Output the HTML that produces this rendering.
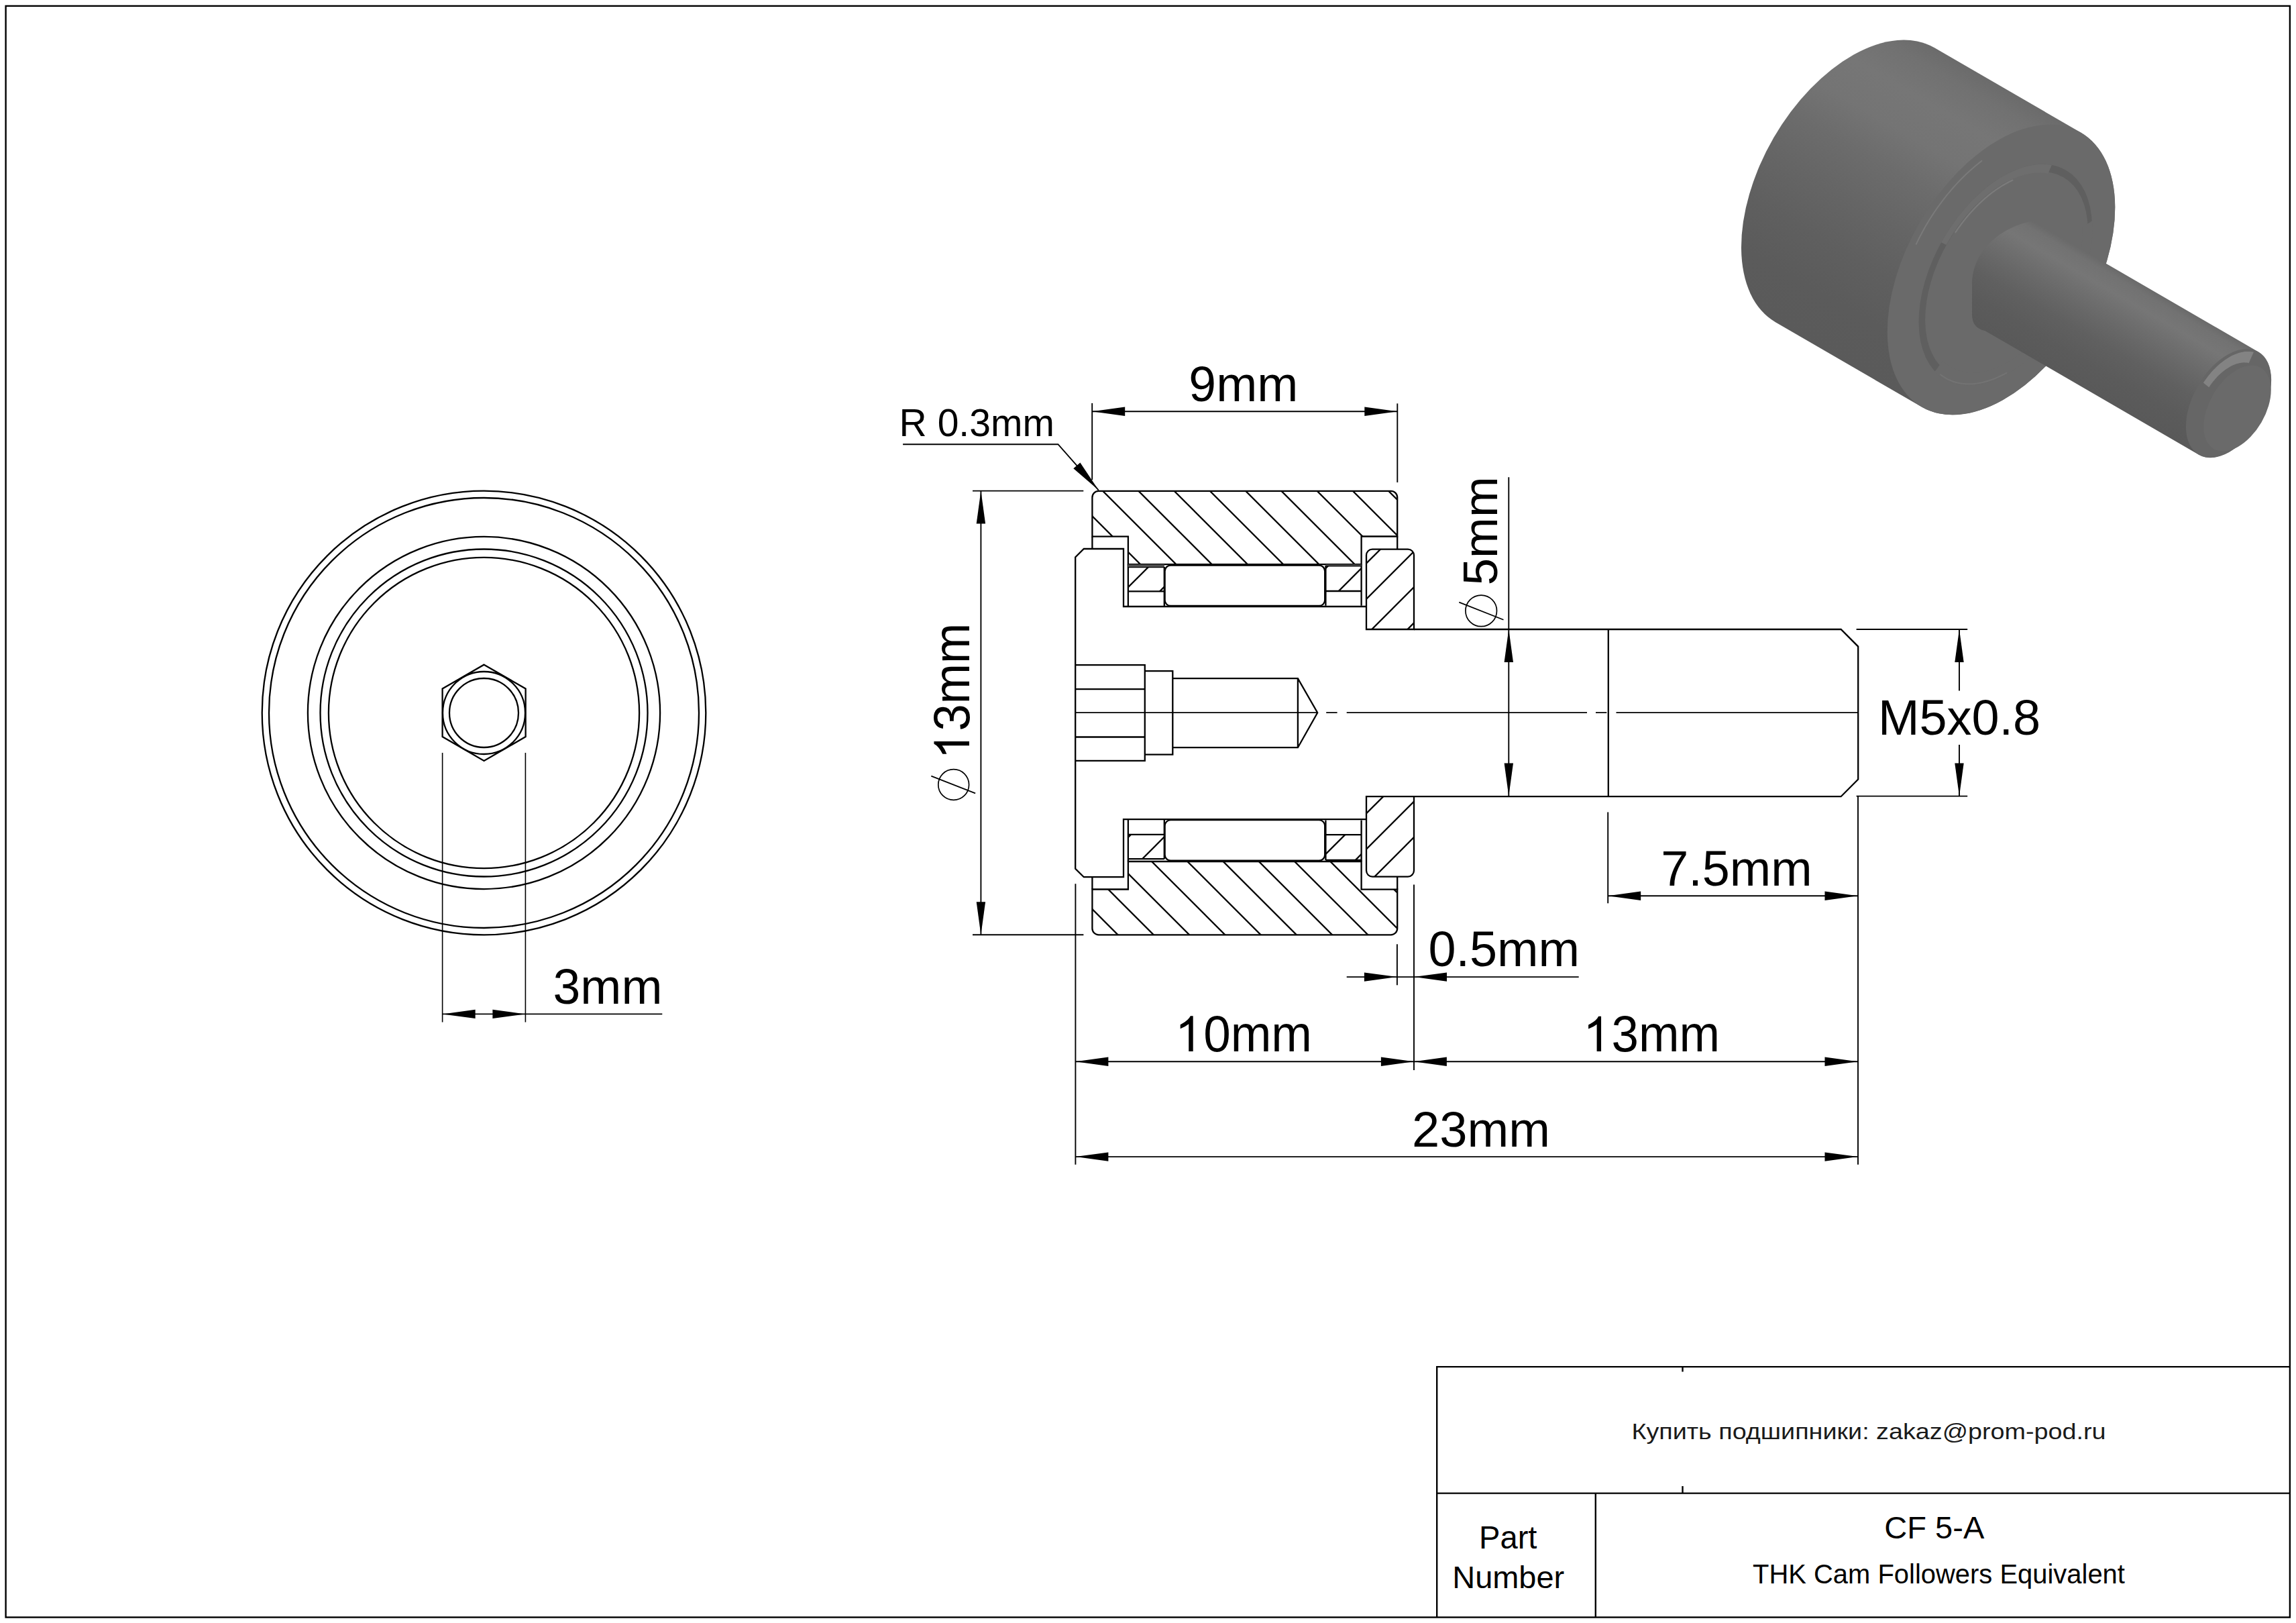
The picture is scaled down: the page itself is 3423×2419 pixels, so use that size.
<!DOCTYPE html><html><head><meta charset="utf-8"><style>html,body{margin:0;padding:0;background:#fff;overflow:hidden}svg{display:block}text{font-family:"Liberation Sans",sans-serif}</style></head><body>
<svg width="3423" height="2419" viewBox="0 0 3423 2419">
<rect x="0" y="0" width="3423" height="2419" fill="#fff"/>
<defs>
<linearGradient id="gBody" gradientUnits="userSpaceOnUse" x1="2884.16" y1="71.18" x2="2647.04" y2="480.22">
<stop offset="0" stop-color="#6b6b6b"/>
<stop offset="0.06" stop-color="#717171"/>
<stop offset="0.16" stop-color="#767676"/>
<stop offset="0.28" stop-color="#747474"/>
<stop offset="0.4" stop-color="#6c6c6c"/>
<stop offset="0.55" stop-color="#656565"/>
<stop offset="0.7" stop-color="#5f5f5f"/>
<stop offset="0.85" stop-color="#5b5b5b"/>
<stop offset="1" stop-color="#5a5a5a"/>
</linearGradient>
<linearGradient id="gShaft" gradientUnits="userSpaceOnUse" x1="3154.99" y1="401.56" x2="3066.12" y2="554.86">
<stop offset="0" stop-color="#6a6a6a"/>
<stop offset="0.06" stop-color="#727272"/>
<stop offset="0.18" stop-color="#767676"/>
<stop offset="0.3" stop-color="#6f6f6f"/>
<stop offset="0.45" stop-color="#676767"/>
<stop offset="0.6" stop-color="#606060"/>
<stop offset="0.8" stop-color="#5b5b5b"/>
<stop offset="1" stop-color="#595959"/>
</linearGradient>
</defs>
<path d="M2884.16,71.18 L3102.09,197.51 A236.40,140.42 120.100 0 1 2864.97,606.55 L2647.04,480.22 A236.40,140.42 120.100 0 1 2884.16,71.18 Z" fill="url(#gBody)"/>
<ellipse cx="2983.53" cy="402.03" rx="236.40" ry="140.42" transform="rotate(120.100 2983.53 402.03)" fill="#6a6a6a" />
<path d="M2954.34,239.91 L2951.44,242.15 L2948.56,244.45 L2945.69,246.80 L2942.83,249.20 L2939.99,251.66 L2937.16,254.17 L2934.35,256.74 L2931.56,259.35 L2928.78,262.02 L2926.03,264.73 L2923.29,267.49 L2920.58,270.30 L2917.88,273.16 L2915.22,276.06 L2912.57,279.01 L2909.95,281.99 L2907.36,285.03 L2904.79,288.10 L2902.25,291.21 L2899.74,294.36 L2897.25,297.55 L2894.80,300.78 L2892.38,304.04 L2890.00,307.34 L2887.64,310.67 L2885.32,314.03 L2883.03,317.42 L2880.78,320.85 L2878.56,324.30 L2876.39,327.78 L2874.25,331.28 L2872.14,334.81 L2870.08,338.36 L2868.06,341.94 L2866.08,345.54 L2864.13,349.15 L2862.24,352.79 L2860.38,356.44 L2858.57,360.11 L2856.80,363.79" fill="none" stroke="#7a7a7a" stroke-width="2.0" stroke-linecap="round"/>
<ellipse cx="2989.77" cy="409.41" rx="180.00" ry="106.92" transform="rotate(120.100 2989.77 409.41)" fill="#5f5f5f" />
<ellipse cx="2991.50" cy="410.41" rx="169.00" ry="100.39" transform="rotate(120.100 2991.50 410.41)" fill="#6a6a6a" />
<path d="M3058.84,245.93 L3054.99,245.33 L3051.05,244.93 L3047.04,244.73 L3042.96,244.73 L3038.82,244.93 L3034.62,245.33 L3030.36,245.93 L3026.05,246.73 L3021.70,247.73 L3017.31,248.93 L3012.89,250.32 L3008.43,251.90 L3003.96,253.68 L2999.47,255.64 L2994.96,257.80 L2990.45,260.14 L2985.94,262.66 L2981.44,265.36 L2976.94,268.23 L2972.46,271.28 L2968.00,274.49 L2963.57,277.87 L2959.17,281.41 L2954.80,285.10 L2950.48,288.95 L2946.21,292.94 L2941.99,297.08 L2937.82,301.35 L2933.73,305.76 L2929.70,310.29 L2925.74,314.94 L2921.86,319.70 L2918.06,324.58 L2914.35,329.56 L2910.74,334.63 L2907.22,339.80 L2903.80,345.05 L2900.48,350.38 L2897.27,355.78 L2894.18,361.25 L2901.61,365.00 L2904.47,359.96 L2907.42,354.97 L2910.48,350.06 L2913.64,345.21 L2916.88,340.45 L2920.22,335.77 L2923.64,331.18 L2927.14,326.68 L2930.72,322.29 L2934.37,318.00 L2938.09,313.82 L2941.87,309.76 L2945.70,305.82 L2949.60,302.00 L2953.54,298.32 L2957.52,294.77 L2961.55,291.36 L2965.60,288.10 L2969.69,284.98 L2973.81,282.02 L2977.94,279.21 L2982.08,276.56 L2986.24,274.07 L2990.40,271.75 L2994.56,269.59 L2998.71,267.60 L3002.86,265.79 L3006.98,264.15 L3011.09,262.69 L3015.17,261.41 L3019.22,260.31 L3023.23,259.39 L3027.20,258.65 L3031.13,258.09 L3035.01,257.72 L3038.83,257.54 L3042.59,257.54 L3046.29,257.72 L3049.91,258.09 L3053.47,258.65 Z" fill="#6e6e6e"/>
<path d="M3000.44,268.61 L2998.16,269.68 L2995.87,270.80 L2993.59,271.98 L2991.30,273.20 L2989.01,274.48 L2986.72,275.80 L2984.44,277.18 L2982.15,278.60 L2979.88,280.08 L2977.60,281.60 L2975.33,283.17 L2973.07,284.78 L2970.81,286.45 L2968.56,288.15 L2966.32,289.91 L2964.09,291.70 L2961.86,293.54 L2959.65,295.43 L2957.45,297.36 L2955.27,299.32 L2953.09,301.33 L2950.93,303.38 L2948.79,305.47 L2946.66,307.60 L2944.55,309.76 L2942.46,311.97 L2940.38,314.20 L2938.32,316.48 L2936.28,318.79 L2934.27,321.13 L2932.27,323.51 L2930.29,325.91 L2928.34,328.35 L2926.41,330.82 L2924.51,333.32 L2922.63,335.85 L2920.77,338.40 L2918.94,340.98 L2917.14,343.59 L2915.37,346.22" fill="none" stroke="#7b7b7b" stroke-width="2.2" stroke-linecap="round"/>
<path d="M2884.23,554.26 L2889.34,559.14 L2894.88,563.39 L2900.80,567.00 L2907.10,569.96 L2913.75,572.25 L2920.71,573.86 L2927.96,574.78 L2935.46,575.01 L2943.20,574.56 L2951.12,573.41 L2959.21,571.58 L2967.43,569.08 L2975.74,565.90 L2984.10,562.08 L2992.49,557.62 L3000.87,552.54 L3009.21,546.87 L3017.46,540.62 L3025.60,533.83 L3033.58,526.51 L3041.39,518.71 L3048.98,510.46 L3056.32,501.78 L3063.39,492.71 L3070.15,483.30 L3076.57,473.58 L3082.63,463.60 L3088.31,453.39 L3093.57,442.99 L3098.40,432.46 L3102.78,421.82 L3106.69,411.14 L3110.11,400.45 L3113.03,389.80 L3115.43,379.23 L3117.31,368.78 L3118.66,358.50 L3119.47,348.44 L3119.74,338.63 L3119.47,329.11 L3104.42,338.43 L3104.66,346.84 L3104.42,355.51 L3103.71,364.41 L3102.51,373.49 L3100.85,382.73 L3098.73,392.07 L3096.15,401.49 L3093.12,410.94 L3089.67,420.38 L3085.80,429.78 L3081.53,439.09 L3076.87,448.28 L3071.86,457.31 L3066.50,466.14 L3060.82,474.73 L3054.85,483.05 L3048.60,491.06 L3042.11,498.73 L3035.40,506.03 L3028.50,512.93 L3021.44,519.39 L3014.25,525.40 L3006.95,530.92 L2999.59,535.94 L2992.18,540.42 L2984.76,544.37 L2977.36,547.75 L2970.02,550.55 L2962.76,552.76 L2955.61,554.38 L2948.60,555.39 L2941.76,555.80 L2935.13,555.59 L2928.72,554.78 L2922.57,553.35 L2916.69,551.33 L2911.13,548.72 L2905.89,545.53 L2900.99,541.76 L2896.47,537.45 Z" fill="#6a6a6a"/>
<path d="M2892.87,558.20 L2894.71,559.61 L2896.60,560.94 L2898.53,562.21 L2900.51,563.40 L2902.52,564.52 L2904.58,565.57 L2906.68,566.54 L2908.82,567.44 L2910.99,568.26 L2913.21,569.01 L2915.46,569.68 L2917.75,570.27 L2920.07,570.79 L2922.42,571.23 L2924.81,571.59 L2927.22,571.88 L2929.67,572.09 L2932.14,572.22 L2934.65,572.27 L2937.18,572.25 L2939.73,572.15 L2942.31,571.97 L2944.91,571.72 L2947.53,571.38 L2950.17,570.97 L2952.83,570.49 L2955.51,569.92 L2958.20,569.28 L2960.91,568.57 L2963.64,567.78 L2966.37,566.91 L2969.12,565.97 L2971.87,564.95 L2974.64,563.86 L2977.41,562.70 L2980.19,561.46 L2982.97,560.15 L2985.76,558.77 L2988.55,557.32 L2991.33,555.79" fill="none" stroke="#737373" stroke-width="2.0" stroke-linecap="round"/>
<path d="M3030.41,329.34 L3366.95,524.43 A88.6,52.63 120.100 0 1 3278.09,677.73 L2959.71,493.17 C2948,490.5 2940,484 2940,468 L2940,425 C2940,372 2985,338 3030.41,329.34 Z" fill="url(#gShaft)"/>
<ellipse cx="3322.52" cy="601.08" rx="88.60" ry="52.63" transform="rotate(120.100 3322.52 601.08)" fill="#666666" />
<path d="M3359.92,524.86 L3358.23,524.50 L3356.50,524.22 L3354.75,524.03 L3352.96,523.92 L3351.14,523.89 L3349.29,523.95 L3347.42,524.10 L3345.53,524.32 L3343.61,524.63 L3341.67,525.03 L3339.72,525.51 L3337.74,526.07 L3335.76,526.71 L3333.76,527.43 L3331.76,528.24 L3329.75,529.12 L3327.73,530.08 L3325.71,531.12 L3323.69,532.24 L3321.67,533.43 L3319.65,534.69 L3317.64,536.03 L3315.64,537.44 L3313.65,538.92 L3311.67,540.47 L3309.71,542.08 L3307.76,543.76 L3305.83,545.50 L3303.92,547.31 L3302.03,549.17 L3300.17,551.09 L3298.34,553.06 L3296.53,555.09 L3294.75,557.17 L3293.01,559.29 L3291.30,561.47 L3289.63,563.68 L3287.99,565.94 L3286.40,568.24 L3284.85,570.58 L3293.27,577.27 L3294.50,575.43 L3295.76,573.61 L3297.06,571.83 L3298.38,570.07 L3299.73,568.35 L3301.11,566.67 L3302.51,565.03 L3303.94,563.43 L3305.39,561.86 L3306.86,560.35 L3308.36,558.87 L3309.86,557.45 L3311.39,556.07 L3312.93,554.74 L3314.48,553.47 L3316.05,552.25 L3317.62,551.08 L3319.21,549.96 L3320.80,548.90 L3322.39,547.90 L3323.99,546.96 L3325.58,546.08 L3327.18,545.26 L3328.78,544.49 L3330.37,543.80 L3331.95,543.16 L3333.53,542.59 L3335.10,542.08 L3336.66,541.64 L3338.21,541.26 L3339.74,540.95 L3341.25,540.70 L3342.75,540.52 L3344.23,540.41 L3345.69,540.36 L3347.13,540.38 L3348.55,540.47 L3349.93,540.62 L3351.30,540.84 L3352.63,541.13 Z" fill="#838383"/>
<ellipse cx="3335.50" cy="608.60" rx="70.00" ry="41.58" transform="rotate(120.100 3335.50 608.60)" fill="#6a6a6a" />
<g fill="none" stroke="#000" stroke-linecap="butt">
<rect x="8.6" y="8.9" width="3405.3" height="2401.6" stroke-width="2.4"/>
<path d="M2142.2,2410.5 L2142.2,2037.1 L3413.9,2037.1 M2142.2,2225.6 L3413.9,2225.6 M2378.8,2225.6 L2378.8,2410.5" stroke-width="2.4"/>
<path d="M2508.5,2037.1 L2508.5,2044.5 M2508.5,2215 L2508.5,2225.6" stroke-width="2.4"/>
</g>
<g fill="none" stroke="#000" stroke-width="2.3">
<circle cx="721.5" cy="1062.5" r="330.8"/>
<circle cx="721.5" cy="1062.5" r="320.5"/>
<circle cx="721.5" cy="1062.5" r="262.6"/>
<circle cx="721.5" cy="1062.5" r="244.0"/>
<circle cx="721.5" cy="1062.5" r="231.6"/>
<circle cx="721.5" cy="1062.5" r="61.5"/>
<circle cx="721.5" cy="1062.5" r="51.5"/>
<path d="M721.60,990.70 L783.61,1026.50 L783.61,1098.10 L721.60,1133.90 L659.59,1098.10 L659.59,1026.50 Z"/>
</g>
<g stroke="#000" fill="none">
<line x1="659.60" y1="1122.00" x2="659.60" y2="1523.50" stroke-width="1.6" />
<line x1="783.40" y1="1122.00" x2="783.40" y2="1523.50" stroke-width="1.6" />
<line x1="659.60" y1="1511.40" x2="987.30" y2="1511.40" stroke-width="1.6" />
</g>
<path d="M659.60,1511.40 L708.60,1504.70 L708.60,1518.10 Z" fill="#000" stroke="none"/>
<path d="M783.40,1511.40 L734.40,1518.10 L734.40,1504.70 Z" fill="#000" stroke="none"/>
<defs>
<clipPath id="cRingT"><path d="M1628.4,799.7 L1628.4,741.4 A9.5,9.5 0 0 1 1637.9,731.9 L2073.7,731.9 A9.5,9.5 0 0 1 2083.2,741.4 L2083.2,799.5 L2029.6,799.5 L2029.6,841.2 L1681.9,841.2 L1681.9,799.7 Z"/></clipPath>
<clipPath id="cRingB"><path d="M1628.4,1325.50 L1628.4,1383.80 A9.5,9.5 0 0 0 1637.9,1393.30 L2073.7,1393.30 A9.5,9.5 0 0 0 2083.2,1383.80 L2083.2,1325.70 L2029.6,1325.70 L2029.6,1284.00 L1681.9,1284.00 L1681.9,1325.50 Z"/></clipPath>
<clipPath id="cWashT"><path d="M2037.0,938.0 L2037.0,827.6 A9.0,9.0 0 0 1 2046.0,818.6 L2099.0,818.6 A9.0,9.0 0 0 1 2108.0,827.6 L2108.0,938.0 Z"/></clipPath>
<clipPath id="cWashB"><path d="M2037.0,1187.20 L2037.0,1297.60 A9.0,9.0 0 0 0 2046.0,1306.60 L2099.0,1306.60 A9.0,9.0 0 0 0 2108.0,1297.60 L2108.0,1187.20 Z"/></clipPath>
<clipPath id="cCageLT"><rect x="1681.9" y="845.0" width="53.9" height="36.3"/></clipPath>
<clipPath id="cCageRT"><rect x="1976.4" y="843.3" width="53.2" height="37.7"/></clipPath>
<clipPath id="cCageLB"><rect x="1681.9" y="1243.90" width="53.9" height="36.3"/></clipPath>
<clipPath id="cCageRB"><rect x="1976.4" y="1244.20" width="53.2" height="37.7"/></clipPath>
</defs>
<g clip-path="url(#cRingT)" stroke="#000" stroke-width="2.3">
<line x1="1477.55" y1="725.00" x2="1597.55" y2="845.00"/>
<line x1="1530.80" y1="725.00" x2="1650.80" y2="845.00"/>
<line x1="1584.05" y1="725.00" x2="1704.05" y2="845.00"/>
<line x1="1637.30" y1="725.00" x2="1757.30" y2="845.00"/>
<line x1="1690.55" y1="725.00" x2="1810.55" y2="845.00"/>
<line x1="1743.80" y1="725.00" x2="1863.80" y2="845.00"/>
<line x1="1797.05" y1="725.00" x2="1917.05" y2="845.00"/>
<line x1="1850.30" y1="725.00" x2="1970.30" y2="845.00"/>
<line x1="1903.55" y1="725.00" x2="2023.55" y2="845.00"/>
<line x1="1956.80" y1="725.00" x2="2076.80" y2="845.00"/>
<line x1="2010.05" y1="725.00" x2="2130.05" y2="845.00"/>
<line x1="2063.30" y1="725.00" x2="2183.30" y2="845.00"/>
<line x1="2116.55" y1="725.00" x2="2236.55" y2="845.00"/>
</g>
<g clip-path="url(#cRingB)" stroke="#000" stroke-width="2.3">
<line x1="1447.00" y1="1280.20" x2="1567.00" y2="1400.20"/>
<line x1="1500.25" y1="1280.20" x2="1620.25" y2="1400.20"/>
<line x1="1553.50" y1="1280.20" x2="1673.50" y2="1400.20"/>
<line x1="1606.75" y1="1280.20" x2="1726.75" y2="1400.20"/>
<line x1="1660.00" y1="1280.20" x2="1780.00" y2="1400.20"/>
<line x1="1713.25" y1="1280.20" x2="1833.25" y2="1400.20"/>
<line x1="1766.50" y1="1280.20" x2="1886.50" y2="1400.20"/>
<line x1="1819.75" y1="1280.20" x2="1939.75" y2="1400.20"/>
<line x1="1873.00" y1="1280.20" x2="1993.00" y2="1400.20"/>
<line x1="1926.25" y1="1280.20" x2="2046.25" y2="1400.20"/>
<line x1="1979.50" y1="1280.20" x2="2099.50" y2="1400.20"/>
<line x1="2032.75" y1="1280.20" x2="2152.75" y2="1400.20"/>
<line x1="2086.00" y1="1280.20" x2="2206.00" y2="1400.20"/>
<line x1="2139.25" y1="1280.20" x2="2259.25" y2="1400.20"/>
</g>
<g clip-path="url(#cWashT)" stroke="#000" stroke-width="2.3">
<line x1="2013.45" y1="810.00" x2="1878.45" y2="945.00"/>
<line x1="2066.70" y1="810.00" x2="1931.70" y2="945.00"/>
<line x1="2119.95" y1="810.00" x2="1984.95" y2="945.00"/>
<line x1="2173.20" y1="810.00" x2="2038.20" y2="945.00"/>
<line x1="2226.45" y1="810.00" x2="2091.45" y2="945.00"/>
<line x1="2279.70" y1="810.00" x2="2144.70" y2="945.00"/>
</g>
<g clip-path="url(#cWashB)" stroke="#000" stroke-width="2.3">
<line x1="2016.00" y1="1180.20" x2="1881.00" y2="1315.20"/>
<line x1="2069.25" y1="1180.20" x2="1934.25" y2="1315.20"/>
<line x1="2122.50" y1="1180.20" x2="1987.50" y2="1315.20"/>
<line x1="2175.75" y1="1180.20" x2="2040.75" y2="1315.20"/>
<line x1="2229.00" y1="1180.20" x2="2094.00" y2="1315.20"/>
<line x1="2282.25" y1="1180.20" x2="2147.25" y2="1315.20"/>
</g>
<g clip-path="url(#cCageLT)" stroke="#000" stroke-width="2.3">
<line x1="1663.95" y1="840.00" x2="1618.95" y2="885.00"/>
<line x1="1717.20" y1="840.00" x2="1672.20" y2="885.00"/>
<line x1="1770.45" y1="840.00" x2="1725.45" y2="885.00"/>
<line x1="1823.70" y1="840.00" x2="1778.70" y2="885.00"/>
</g>
<g clip-path="url(#cCageRT)" stroke="#000" stroke-width="2.3">
<line x1="1930.20" y1="840.00" x2="1885.20" y2="885.00"/>
<line x1="1983.45" y1="840.00" x2="1938.45" y2="885.00"/>
<line x1="2036.70" y1="840.00" x2="1991.70" y2="885.00"/>
<line x1="2089.95" y1="840.00" x2="2044.95" y2="885.00"/>
</g>
<g clip-path="url(#cCageLB)" stroke="#000" stroke-width="2.3">
<line x1="1636.50" y1="1240.20" x2="1591.50" y2="1285.20"/>
<line x1="1689.75" y1="1240.20" x2="1644.75" y2="1285.20"/>
<line x1="1743.00" y1="1240.20" x2="1698.00" y2="1285.20"/>
<line x1="1796.25" y1="1240.20" x2="1751.25" y2="1285.20"/>
</g>
<g clip-path="url(#cCageRB)" stroke="#000" stroke-width="2.3">
<line x1="1956.00" y1="1240.20" x2="1911.00" y2="1285.20"/>
<line x1="2009.25" y1="1240.20" x2="1964.25" y2="1285.20"/>
<line x1="2062.50" y1="1240.20" x2="2017.50" y2="1285.20"/>
<line x1="2115.75" y1="1240.20" x2="2070.75" y2="1285.20"/>
</g>
<g fill="none" stroke="#000" stroke-width="2.3" stroke-linejoin="miter">
<path d="M1628.4,799.7 L1628.4,741.4 A9.5,9.5 0 0 1 1637.9,731.9 L2073.7,731.9 A9.5,9.5 0 0 1 2083.2,741.4 L2083.2,799.5 L2029.6,799.5 L2029.6,841.2 L1681.9,841.2 L1681.9,799.7 Z"/>
<path d="M1628.4,1325.50 L1628.4,1383.80 A9.5,9.5 0 0 0 1637.9,1393.30 L2073.7,1393.30 A9.5,9.5 0 0 0 2083.2,1383.80 L2083.2,1325.70 L2029.6,1325.70 L2029.6,1284.00 L1681.9,1284.00 L1681.9,1325.50 Z"/>
<path d="M2037.0,938.0 L2037.0,827.6 A9.0,9.0 0 0 1 2046.0,818.6 L2099.0,818.6 A9.0,9.0 0 0 1 2108.0,827.6 L2108.0,938.0 Z"/>
<path d="M2037.0,1187.20 L2037.0,1297.60 A9.0,9.0 0 0 0 2046.0,1306.60 L2099.0,1306.60 A9.0,9.0 0 0 0 2108.0,1297.60 L2108.0,1187.20 Z"/>
<path d="M1628.4,799.70 L1628.4,818.00 M2083.2,799.50 L2083.2,818.60"/>
<path d="M1681.9,841.20 L1681.9,903.90 M1681.9,845.00 L1735.8,845.00 M1681.9,881.30 L1735.8,881.30 M1735.8,845.00 L1735.8,903.90"/>
<path d="M2029.6,841.20 L2029.6,902.80 M1976.4,843.30 L2029.6,843.30 M1976.4,881.00 L2029.6,881.00 M1976.4,843.30 L1976.4,902.80"/>
<path d="M1745.1999999999998,842.6 L1966.6000000000001,842.6 A8.6,8.6 0 0 1 1975.2,851.2 L1975.2,894.4 A8.6,8.6 0 0 1 1966.6000000000001,903.0 L1745.1999999999998,903.0 A8.6,8.6 0 0 1 1736.6,894.4 L1736.6,851.2 A8.6,8.6 0 0 1 1745.1999999999998,842.6 Z"/>
<path d="M1628.4,1325.50 L1628.4,1307.20 M2083.2,1325.70 L2083.2,1306.60"/>
<path d="M1681.9,1284.00 L1681.9,1221.30 M1681.9,1280.20 L1735.8,1280.20 M1681.9,1243.90 L1735.8,1243.90 M1735.8,1280.20 L1735.8,1221.30"/>
<path d="M2029.6,1284.00 L2029.6,1222.40 M1976.4,1281.90 L2029.6,1281.90 M1976.4,1244.20 L2029.6,1244.20 M1976.4,1281.90 L1976.4,1222.40"/>
<path d="M1745.1999999999998,1222.20 L1966.6000000000001,1222.20 A8.6,8.6 0 0 1 1975.2,1230.80 L1975.2,1274.00 A8.6,8.6 0 0 1 1966.6000000000001,1282.60 L1745.1999999999998,1282.60 A8.6,8.6 0 0 1 1736.6,1274.00 L1736.6,1230.80 A8.6,8.6 0 0 1 1745.1999999999998,1222.20 Z"/>
</g>
<g fill="#4f4f4f" stroke="none">
<rect x="1681.9" y="841.2" width="54" height="3.8"/><rect x="1976.4" y="841.2" width="53.2" height="2.1"/>
</g>
<g fill="none" stroke="#000" stroke-width="2.3">
<path d="M2037,904.0 L1675.0,904.0 L1675.0,818.0 L1615.8,818.0 L1603.2,830.5 L1603.2,1294.70 L1615.8,1307.20 L1675.0,1307.20 L1675.0,1221.20 L2037,1221.20"/>
<path d="M2108,938.0 L2744.6,938.0 L2770.2,963.6 L2770.2,1161.6 L2744.6,1187.2 L2108,1187.2"/>
<path d="M2397.8,938 L2397.8,1187.2"/>
<path d="M1603.4,991.1 L1706.8,991.1 L1706.8,1133.8 L1603.4,1133.8 M1603.4,1027.1 L1706.8,1027.1 M1603.4,1098.5 L1706.8,1098.5 M1706.8,1000.2 L1748.3,1000.2 L1748.3,1124.6 L1706.8,1124.6 M1748.3,1011.2 L1934.9,1011.2 L1964.2,1062.2 L1934.9,1114.2 L1748.3,1114.2 M1934.9,1011.2 L1934.9,1114.2"/>
</g>
<g stroke="#000" stroke-width="1.8" fill="none">
<path d="M1603.4,1062.2 L1964.2,1062.2 M1977.2,1062.2 L1993.6,1062.2 M2007.7,1062.2 L2366.0,1062.2 M2379,1062.2 L2395.3,1062.2 M2409.5,1062.2 L2769.4,1062.2"/>
</g>
<g stroke="#000" stroke-width="1.9" fill="none">
<line x1="1628.20" y1="600.90" x2="1628.20" y2="715.30" stroke-width="1.9" />
<line x1="2083.30" y1="601.40" x2="2083.30" y2="719.00" stroke-width="1.9" />
<line x1="1628.20" y1="613.30" x2="2083.30" y2="613.30" stroke-width="1.9" />
<path d="M1346.1,662.2 L1577.4,662.2 L1637.8,730.6" stroke-width="1.9"/>
<line x1="1450.00" y1="731.60" x2="1615.30" y2="731.60" stroke-width="1.9" />
<line x1="1450.00" y1="1393.20" x2="1615.40" y2="1393.20" stroke-width="1.9" />
<line x1="1462.40" y1="731.60" x2="1462.40" y2="1393.20" stroke-width="1.9" />
<line x1="2249.30" y1="711.30" x2="2249.30" y2="1187.20" stroke-width="1.9" />
<line x1="2767.60" y1="938.00" x2="2933.20" y2="938.00" stroke-width="1.9" />
<line x1="2767.60" y1="1186.60" x2="2933.20" y2="1186.60" stroke-width="1.9" />
<line x1="2921.00" y1="938.00" x2="2921.00" y2="1029.50" stroke-width="1.9" />
<line x1="2921.00" y1="1110.00" x2="2921.00" y2="1186.60" stroke-width="1.9" />
<line x1="2397.20" y1="1210.50" x2="2397.20" y2="1346.30" stroke-width="1.9" />
<line x1="2770.00" y1="1187.00" x2="2770.00" y2="1735.70" stroke-width="1.9" />
<line x1="2397.20" y1="1335.20" x2="2770.00" y2="1335.20" stroke-width="1.9" />
<line x1="2082.90" y1="1407.30" x2="2082.90" y2="1468.30" stroke-width="1.9" />
<line x1="2108.00" y1="1318.50" x2="2108.00" y2="1595.00" stroke-width="1.9" />
<line x1="2007.70" y1="1456.10" x2="2353.70" y2="1456.10" stroke-width="1.9" />
<line x1="1603.40" y1="1317.20" x2="1603.40" y2="1735.70" stroke-width="1.9" />
<line x1="1603.40" y1="1582.30" x2="2769.50" y2="1582.30" stroke-width="1.9" />
<line x1="1603.40" y1="1724.10" x2="2769.50" y2="1724.10" stroke-width="1.9" />
</g>
<path d="M1628.20,613.30 L1677.20,606.60 L1677.20,620.00 Z" fill="#000" stroke="none"/>
<path d="M2083.30,613.30 L2034.30,620.00 L2034.30,606.60 Z" fill="#000" stroke="none"/>
<path d="M1637.80,730.60 L1600.34,698.31 L1610.39,689.44 Z" fill="#000" stroke="none"/>
<path d="M1462.40,731.60 L1469.10,780.60 L1455.70,780.60 Z" fill="#000" stroke="none"/>
<path d="M1462.40,1393.20 L1455.70,1344.20 L1469.10,1344.20 Z" fill="#000" stroke="none"/>
<path d="M2249.30,938.00 L2256.00,987.00 L2242.60,987.00 Z" fill="#000" stroke="none"/>
<path d="M2249.30,1186.40 L2242.60,1137.40 L2256.00,1137.40 Z" fill="#000" stroke="none"/>
<path d="M2921.00,938.00 L2927.70,987.00 L2914.30,987.00 Z" fill="#000" stroke="none"/>
<path d="M2921.00,1186.60 L2914.30,1137.60 L2927.70,1137.60 Z" fill="#000" stroke="none"/>
<path d="M2397.20,1335.20 L2446.20,1328.50 L2446.20,1341.90 Z" fill="#000" stroke="none"/>
<path d="M2769.50,1335.20 L2720.50,1341.90 L2720.50,1328.50 Z" fill="#000" stroke="none"/>
<path d="M2082.90,1456.10 L2033.90,1462.80 L2033.90,1449.40 Z" fill="#000" stroke="none"/>
<path d="M2108.00,1456.10 L2157.00,1449.40 L2157.00,1462.80 Z" fill="#000" stroke="none"/>
<path d="M1603.40,1582.30 L1652.40,1575.60 L1652.40,1589.00 Z" fill="#000" stroke="none"/>
<path d="M2107.90,1582.30 L2058.90,1589.00 L2058.90,1575.60 Z" fill="#000" stroke="none"/>
<path d="M2107.90,1582.30 L2156.90,1575.60 L2156.90,1589.00 Z" fill="#000" stroke="none"/>
<path d="M2769.50,1582.30 L2720.50,1589.00 L2720.50,1575.60 Z" fill="#000" stroke="none"/>
<path d="M1603.40,1724.10 L1652.40,1717.40 L1652.40,1730.80 Z" fill="#000" stroke="none"/>
<path d="M2769.50,1724.10 L2720.50,1730.80 L2720.50,1717.40 Z" fill="#000" stroke="none"/>
<g stroke="#000" stroke-width="1.7" fill="none">
<circle cx="1421.7" cy="1169.5" r="22.9"/><line x1="1388.3" y1="1156.6" x2="1454.1" y2="1182.4"/>
<circle cx="2208.2" cy="910.4" r="23.3"/><line x1="2175.3" y1="897.6" x2="2241.5" y2="923.7"/>
</g>
<text transform="translate(824.61,1496.40) scale(1,1.0214)" font-size="73.27" fill="#000">3mm</text>
<text transform="translate(1772.36,597.70) scale(1,1.0108)" font-size="73.34" fill="#000">9mm</text>
<text transform="translate(1340.62,649.60) scale(1,0.9977)" font-size="57.03" fill="#000">R 0.3mm</text>
<text transform="translate(2799.94,1094.80) scale(1,0.9996)" font-size="73.88" fill="#000">M5x0.8</text>
<text transform="translate(2476.32,1320.20) scale(1,1.0011)" font-size="73.77" fill="#000">7.5mm</text>
<text transform="translate(2129.52,1440.40) scale(1,0.9987)" font-size="73.80" fill="#000">0.5mm</text>
<text transform="translate(1753.76,1567.00) scale(1,1.0397)" font-size="72.79" fill="#000"><tspan fill="transparent">1</tspan>0mm</text>
<path transform="translate(1753.76,1567.00) scale(1,1.0397) scale(72.793) translate(0.00,0) scale(0.000488,-0.000488)" d="M702,0 L702,1428 L592,1428 Q500,1240 167,1079 L167,914 Q380,990 520,1100 L520,0 Z" fill="#000"/>
<text transform="translate(2362.16,1567.00) scale(1,1.0330)" font-size="72.72" fill="#000"><tspan fill="transparent">1</tspan>3mm</text>
<path transform="translate(2362.16,1567.00) scale(1,1.0330) scale(72.717) translate(0.00,0) scale(0.000488,-0.000488)" d="M702,0 L702,1428 L592,1428 Q500,1240 167,1079 L167,914 Q380,990 520,1100 L520,0 Z" fill="#000"/>
<text transform="translate(2104.97,1708.70) scale(1,1.0035)" font-size="74.15" fill="#000">23mm</text>
<text transform="translate(1445.00,1129.71) rotate(-90) scale(1,1.0418)" font-size="72.38"><tspan fill="transparent">1</tspan>3mm</text>
<path transform="translate(1445.00,1129.71) rotate(-90) scale(1,1.0418) scale(72.376) translate(0.00,0) scale(0.000488,-0.000488)" d="M702,0 L702,1428 L592,1428 Q500,1240 167,1079 L167,914 Q380,990 520,1100 L520,0 Z" fill="#000"/>
<text transform="translate(2232.00,872.53) rotate(-90) scale(1,0.9973)" font-size="73.06">5mm</text>
<text transform="translate(2432.40,2144.80) scale(1,0.8791)" font-size="37.75" fill="#1a1a1a">Купить подшипники: zakaz@prom-pod.ru</text>
<text transform="translate(2205.04,2307.80) scale(1,1.0039)" font-size="47.12" fill="#000">Part</text>
<text transform="translate(2165.25,2366.80) scale(1,1.0042)" font-size="46.96" fill="#000">Number</text>
<text transform="translate(2809.31,2293.00) scale(1,0.9995)" font-size="47.04" fill="#000">CF 5-A</text>
<text transform="translate(2613.00,2360.00) scale(1,1.0108)" font-size="39.95" fill="#000">THK Cam Followers Equivalent</text>
</svg></body></html>
